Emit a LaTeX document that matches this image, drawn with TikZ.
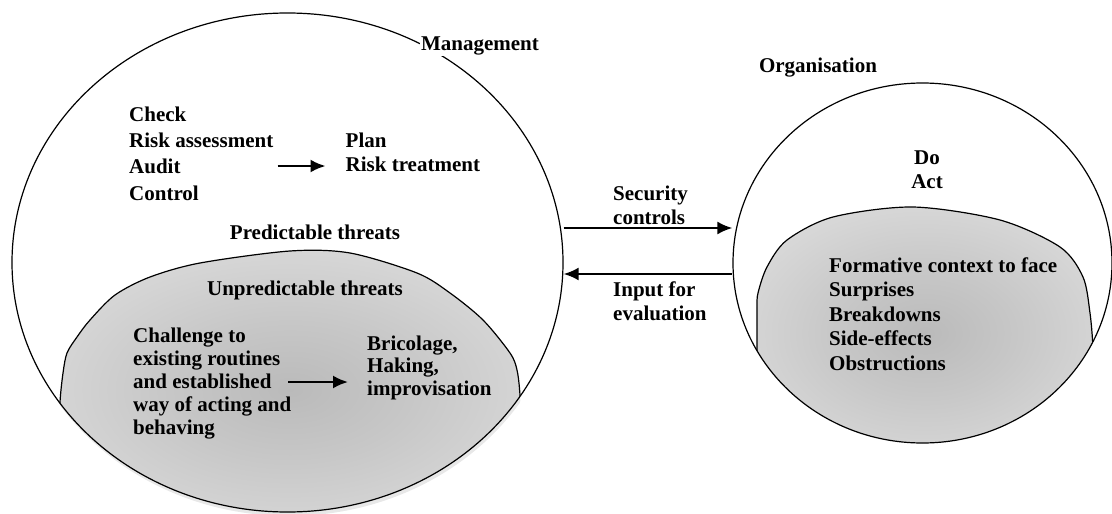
\documentclass[tikz,border=0pt]{standalone}
\usepackage{fontspec}
\setmainfont{Liberation Serif}
\usetikzlibrary{positioning,shapes.geometric,arrows.meta}
\pgfdeclareradialshading{softglow}{\pgfpoint{0bp}{0bp}}{color(0bp)=(black!27); color(12bp)=(black!22); color(48bp)=(black!5); color(100bp)=(black!5)}

\begin{document}
\begin{tikzpicture}[x=1pt,y=-1pt,
lbl/.style={font=\bfseries\fontsize{21}{24}\selectfont,inner sep=0pt,align=left},
zone/.style={draw,ellipse,line width=1.2pt,inner sep=0pt},
dome/.style={line width=1.2pt},
arr/.style={-{Latex[length=15pt,width=13pt]},line width=2.2pt}]
\useasboundingbox (0,0) rectangle (1112,514);

% shaded parts, clipped to the two spheres
\begin{scope}
\clip (289,266.5) ellipse [x radius=275.5pt,y radius=249.5pt];
\fill[black!9] plot[smooth] coordinates {(59,440) (60,402) (63,373) (67,353) (77,337) (90,320) (115,295) (150,277) (200,263) (290,251) (350,253) (417,273) (450,293) (483,320) (510,353) (517,370) (520,395) (522,440)} -- (540,530) -- (40,530) -- cycle;
\end{scope}
\begin{scope}
\clip (287.5,262.5) ellipse [x radius=275.5pt,y radius=249.5pt];
\shade[shading=softglow] plot[smooth] coordinates {(59,440) (60,402) (63,373) (67,353) (77,337) (90,320) (115,295) (150,277) (200,263) (290,251) (350,253) (417,273) (450,293) (483,320) (510,353) (517,370) (520,395) (522,440)} -- (540,530) -- (40,530) -- cycle;
\draw[dome] plot[smooth] coordinates {(59,440) (60,402) (63,373) (67,353) (77,337) (90,320) (115,295) (150,277) (200,263) (290,251) (350,253) (417,273) (450,293) (483,320) (510,353) (517,370) (520,395) (522,440)};
\end{scope}
\begin{scope}
\clip (922.5,263) ellipse [x radius=189.5pt,y radius=180pt];
\shade[shading=softglow] plot[smooth] coordinates {(757,390) (757,330) (757,307) (758,293) (767,267) (787,240) (833,217) (913,207) (1000,220) (1060,247) (1083,277) (1090,313) (1093,347) (1095,390)} -- (1110,460) -- (740,460) -- cycle;
\draw[dome] plot[smooth] coordinates {(757,390) (757,330) (757,307) (758,293) (767,267) (787,240) (833,217) (913,207) (1000,220) (1060,247) (1083,277) (1090,313) (1093,347) (1095,390)};
\end{scope}

\node (mgmt) [zone,minimum width=551pt,minimum height=499pt] at (287.5,262.5) {};
\node (org) [zone,minimum width=379pt,minimum height=360pt] at (922.5,263) {};

\node (mlab) [lbl,fill=white,inner sep=1pt] at (480,46) {Management};
\node (olab) [lbl] at (818,68) {Organisation};

\node (chk) [lbl,anchor=west,font=\bfseries\fontsize{21}{26.3}\selectfont] at (129,153.5) {Check\\Risk assessment\\Audit\\Control};
\node (plan) [lbl,anchor=west,right=72pt of chk.east,yshift=1pt] {Plan\\Risk treatment};
\node (pred) [lbl] at (315,232) {Predictable threats};
\node (unpred) [lbl] at (305,290) {Unpredictable threats};
\node (chal) [lbl,anchor=west,font=\bfseries\fontsize{21}{23}\selectfont] at (133,384) {Challenge to\\existing routines\\and established\\way of acting and\\behaving};
\node (bric) [lbl,anchor=west,font=\bfseries\fontsize{21}{22.5}\selectfont] at (367,367.5) {Bricolage,\\Haking,\\improvisation};

\node (doact) [lbl,align=center] at (927,170) {Do\\Act};
\node (face) [lbl,anchor=west,font=\bfseries\fontsize{21}{24.5}\selectfont] at (829,314) {Formative context to face\\Surprises\\Breakdowns\\Side-effects\\Obstructions};

\coordinate (upper) at (0,228);
\coordinate (lower) at (0,274);
\node (sec) [lbl,anchor=west] at (613,205) {Security\\controls};
\node (inp) [lbl,anchor=west] at (613,301.5) {Input for\\evaluation};

\draw[arr] ([xshift=4pt]chk.east |- 0,166) -- ([xshift=-20pt]plan.west |- 0,166);
\draw[arr] ([xshift=-3pt]chal.east |- 0,382) -- ([xshift=-19pt]bric.west |- 0,382);
\draw[arr] (mgmt.east |- upper) -- (org.west |- upper);
\draw[arr] (org.west |- lower) -- (mgmt.east |- lower);
\end{tikzpicture}
\end{document}
